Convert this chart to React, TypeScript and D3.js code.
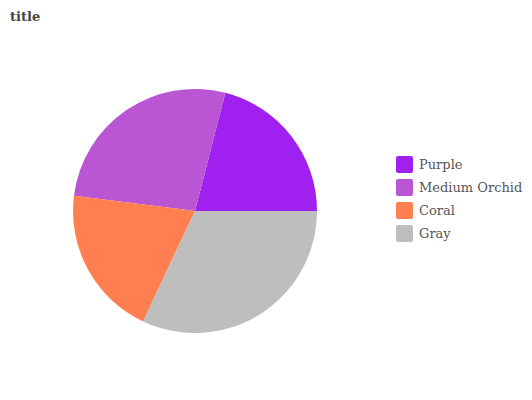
import React from "react";
import * as d3 from "d3";

const categories = ["Purple", "Medium Orchid", "Coral", "Gray"];
const values = [21, 27, 20, 32];
const colors = ["#a020f0", "#ba55d3", "#ff7f50", "#bebebe"];
const drawOrder = ["Purple", "Gray", "Coral", "Medium Orchid"];
const title = "title";

export default function App() {
  const width = 532;
  const height = 400;
  const cx = 195;
  const cy = 211;
  const r = 122;
  const total = d3.sum(values);
  const data = categories.map((c, i) => ({ name: c, value: values[i], color: colors[i] }));
  const start = Math.PI / 2 - (values[0] / total) * 2 * Math.PI;
  const pie = d3
    .pie<any>()
    .value((d) => d.value)
    .sort((a, b) => drawOrder.indexOf(a.name) - drawOrder.indexOf(b.name))
    .startAngle(start)
    .endAngle(start + 2 * Math.PI);
  const arcs = pie(data);
  const arc = d3.arc<any>().innerRadius(0).outerRadius(r);
  return (
    <svg
      width={width}
      height={height}
      style={{ position: "absolute", left: 0, top: 0, fontFamily: "DejaVu Serif, serif" }}
    >
      <rect width={width} height={height} fill="#fff" />
      <text x={10} y={21} fontSize={13} fontWeight="bold" fill="#444">
        {title}
      </text>
      <g transform={`translate(${cx},${cy})`}>
        {arcs.map((a, i) => (
          <path key={i} d={arc(a) || ""} fill={a.data.color} />
        ))}
      </g>
      <g transform="translate(396,156)">
        {data.map((d, i) => (
          <g key={d.name} transform={`translate(0,${i * 23})`}>
            <rect width={17} height={17} rx={2} fill={d.color} />
            <text x={23} y={13} fontSize={13} fill="#555">
              {d.name}
            </text>
          </g>
        ))}
      </g>
    </svg>
  );
}
